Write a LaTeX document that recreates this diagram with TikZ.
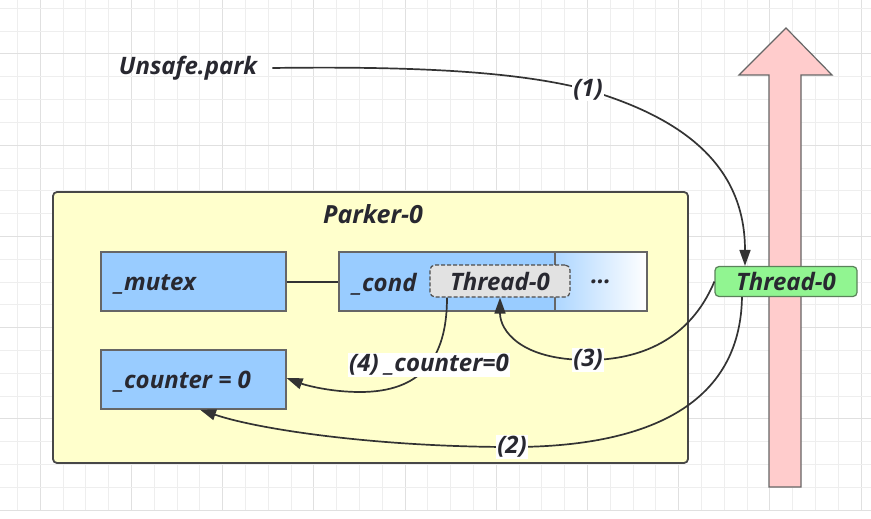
\documentclass[tikz,border=0pt]{standalone}
\usepackage{fontspec}
\setmainfont{Open Sans}
\usetikzlibrary{arrows.meta}
\definecolor{gridminor}{RGB}{238,238,238}
\definecolor{gridmajor}{RGB}{224,224,224}
\definecolor{boxblue}{RGB}{153,204,255}
\definecolor{boxyellow}{RGB}{255,255,204}
\definecolor{boxgreen}{RGB}{145,245,145}
\definecolor{greenedge}{RGB}{90,130,90}
\definecolor{pinkfill}{RGB}{255,204,204}
\definecolor{dashfill}{RGB}{226,226,226}
\definecolor{linec}{RGB}{51,51,51}
\definecolor{textc}{RGB}{40,40,48}
\tikzset{
  txt/.style={font=\bfseries\itshape\fontsize{24}{28}\selectfont, text=textc},
  lbl/.style={fill=white, inner sep=1pt, font=\bfseries\itshape\fontsize{24}{28}\selectfont, text=textc},
  bluebox/.style={draw=gray!80!black, line width=1.2pt, fill=boxblue, minimum width=185pt, minimum height=59pt, inner sep=0pt},
  conn/.style={draw=linec, line width=1.7pt, -{Triangle[length=16pt,width=11pt]}},
}
\begin{document}
\begin{tikzpicture}[x=1pt,y=-1pt]
\useasboundingbox (0,0) rectangle (871,519);
\fill[white] (0,0) rectangle (871,519);
% grid
\foreach \k in {0,...,37}{
  \pgfmathtruncatemacro{\m}{mod(\k+3,4)}
  \ifnum\m=0 \def\gc{gridmajor}\else\def\gc{gridminor}\fi
  \draw[\gc, line width=0.8pt] ({17.3+22.8*\k},0) -- ({17.3+22.8*\k},510);
}
\foreach \k in {0,...,22}{
  \pgfmathtruncatemacro{\m}{mod(\k+2,4)}
  \ifnum\m=0 \def\gc{gridmajor}\else\def\gc{gridminor}\fi
  \draw[\gc, line width=0.8pt] (0,{8.3+22.8*\k}) -- (871,{8.3+22.8*\k});
}
% pink arrow
\draw[fill=pinkfill, draw=gray!80!black, line width=1.2pt, line join=miter]
  (769,487) -- (769,75) -- (739,75) -- (786,28) -- (832,75) -- (801,75) -- (801,487) -- cycle;
% Parker box
\node[draw=linec!90, line width=1.8pt, fill=boxyellow, rounded corners=4pt,
      minimum width=635pt, minimum height=271pt] (parker) at (370.5,327.5) {};
\node[txt, font=\bfseries\itshape\fontsize{25}{29}\selectfont] (parkerlbl) at (373,214) {Parker-0};
% boxes
\node[bluebox] (mutex) at (193.5,281.5) {};
\node[txt, anchor=west] (mutextxt) at (111,284) {\_mutex};
\node[bluebox] (counter) at (193.5,379.5) {};
\node[txt, anchor=west] (countertxt) at (111,382) {\_counter = 0};
\node[draw=gray!80!black, line width=1.2pt, fill=boxblue, minimum width=216pt, minimum height=59pt, inner sep=0pt] (condL) at (447,281.5) {};
\node[draw=gray!80!black, line width=1.2pt, left color=boxblue!80!white, right color=white, minimum width=92pt, minimum height=59pt, inner sep=0pt, txt] (condR) at (601,281.5) {\raisebox{-2pt}{\dots}};
\node[txt, anchor=west] (condtxt) at (349,284) {\_cond};
\draw[linec, line width=2pt] (mutex.east) -- (condL.west);
\node[draw=gray!60!black, dashed, dash pattern=on 4pt off 2pt, line width=1.2pt, fill=dashfill, rounded corners=5pt, minimum width=140pt, minimum height=32pt, inner sep=0pt, txt] (t0in) at (500,281) {\raisebox{-2pt}{Thread-0}};
% Thread-0 green
\node[draw=greenedge, line width=1.2pt, fill=boxgreen, rounded corners=4pt, minimum width=142pt, minimum height=30pt, inner sep=0pt, txt] (thr) at (786,281.5) {\raisebox{-2pt}{Thread-0}};
% Unsafe.park
\node[txt, inner sep=0pt] (up) at (188,68) {Unsafe.park};
% arrows
\draw[conn] ([xshift=15pt]up.east) .. controls (420,66) and (520,72) .. (588,90) node[lbl] (l1) {(1)}
   .. controls (690,120) and (745,170) .. ([xshift=-41pt]thr.north);
\draw[conn] ([xshift=-44pt]thr.south) .. controls (740,420) and (620,447) .. (512,447) node[lbl] (l2) {(2)}
   .. controls (380,447) and (260,430) .. ([xshift=6.5pt]counter.south);
\draw[conn] (thr.west) .. controls (690,340) and (640,360) .. (588,360) node[lbl] (l3) {(3)}
   .. controls (520,360) and (500,330) .. (t0in.south);
\draw[conn] ([xshift=-53pt]t0in.south) .. controls (447,360) and (420,392) .. (360,392)
   .. controls (330,392) and (305,385) .. ([yshift=1.5pt]counter.east);
\node[lbl] (l4) at (429,365) {(4) \_counter=0};
\end{tikzpicture}
\end{document}
